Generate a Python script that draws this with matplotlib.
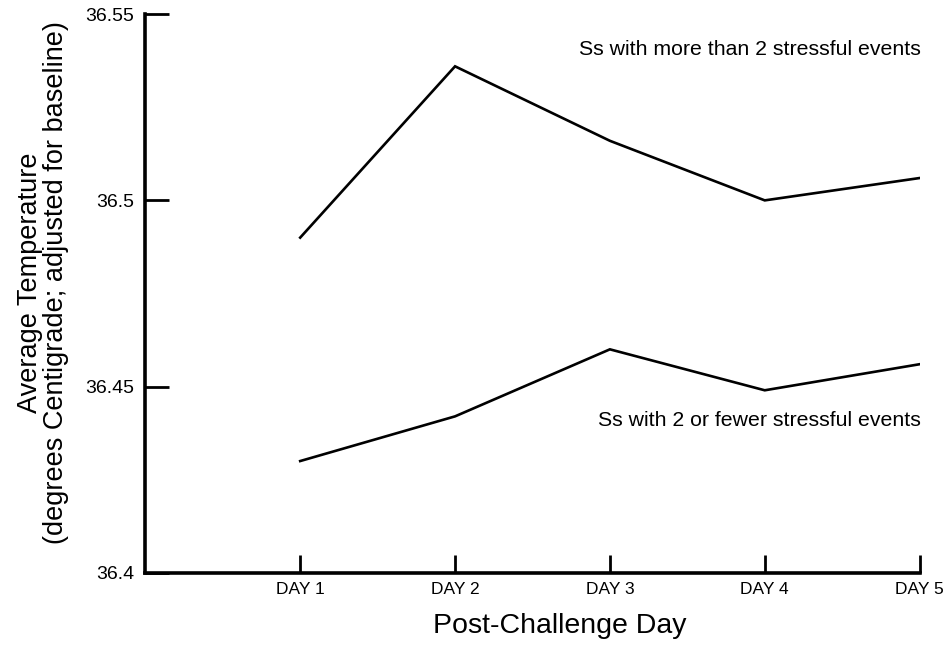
import matplotlib
matplotlib.use("Agg")
import matplotlib.pyplot as plt

days = [1, 2, 3, 4, 5]
day_labels = ["DAY 1", "DAY 2", "DAY 3", "DAY 4", "DAY 5"]
more_than_2 = [36.490, 36.536, 36.516, 36.500, 36.506]
two_or_fewer = [36.430, 36.442, 36.460, 36.449, 36.456]
y_ticks = [36.4, 36.45, 36.5, 36.55]
y_tick_labels = ["36.4", "36.45", "36.5", "36.55"]
label_more = "Ss with more than 2 stressful events"
label_fewer = "Ss with 2 or fewer stressful events"

plt.rcParams['font.family'] = ['Liberation Sans', 'DejaVu Sans']

fig = plt.figure(figsize=(9.5, 6.45), dpi=100)
ax = fig.add_axes([0.153, 0.112, 0.815, 0.866])

ax.plot(days, more_than_2, color="black", lw=1.9, solid_joinstyle="miter")
ax.plot(days, two_or_fewer, color="black", lw=1.9, solid_joinstyle="miter")

ax.set_xlim(0, 5)
ax.set_ylim(36.4, 36.55)
ax.set_yticks(y_ticks)
ax.set_yticklabels(y_tick_labels, fontsize=14)
ax.set_xticks(days)
ax.set_xticklabels(day_labels, fontsize=12.5)

for s in ["top", "right"]:
    ax.spines[s].set_visible(False)
for s in ["left", "bottom"]:
    ax.spines[s].set_linewidth(2.6)

ax.tick_params(axis="y", direction="in", length=17, width=2, pad=8)
ax.tick_params(axis="x", direction="in", length=13, width=2, pad=7)

ax.set_ylabel("Average Temperature\n(degrees Centigrade; adjusted for baseline)",
              fontsize=19.5, linespacing=1.0)
ax.yaxis.set_label_coords(-0.099, 0.52)
ax.set_xlabel("Post-Challenge Day", fontsize=20.5)
ax.xaxis.set_label_coords(0.535, -0.072)

ax.text(5.01, 36.5404, label_more, ha="right", va="center", fontsize=15.3,
        clip_on=False)
ax.text(5.01, 36.4408, label_fewer, ha="right", va="center", fontsize=15.3,
        clip_on=False)

fig.savefig("out.png", dpi=100)
